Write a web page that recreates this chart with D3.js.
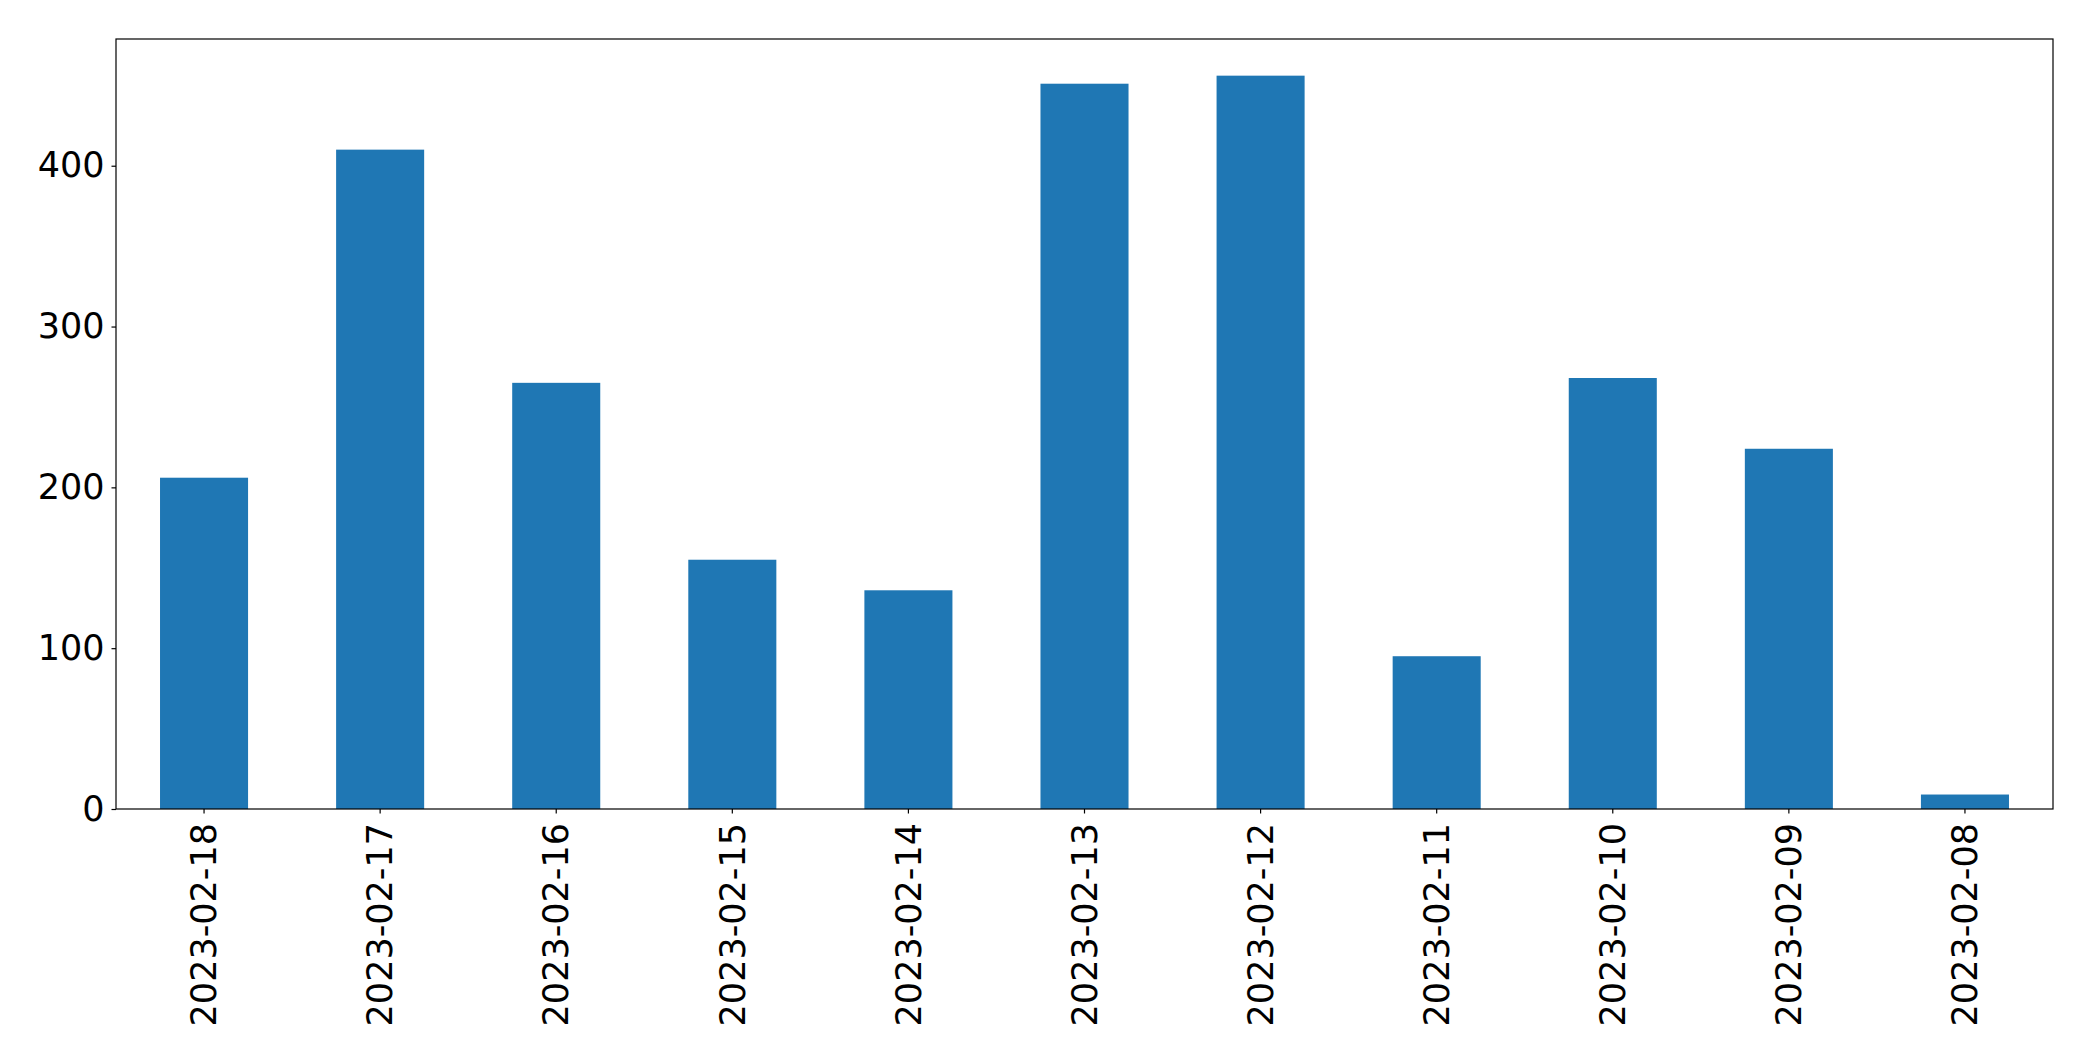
<!DOCTYPE html>
<html>
<head>
<meta charset="utf-8">
<script src="https://cdn.jsdelivr.net/npm/d3@7"></script>
<style>
  html, body { margin: 0; padding: 0; background: #fff; }
  svg { display: block; }
</style>
</head>
<body>
<svg id="chart" width="2093" height="1061"></svg>
<script>
const categories = ["2023-02-18","2023-02-17","2023-02-16","2023-02-15","2023-02-14","2023-02-13","2023-02-12","2023-02-11","2023-02-10","2023-02-09","2023-02-08"];
const values = [206, 410, 265, 155, 136, 451, 456, 95, 268, 224, 9];
const yTicks = [0, 100, 200, 300, 400];

const W = 2093, H = 1061;
const margin = {left: 116, top: 39, right: 40, bottom: 252};
const svg = d3.select("#chart");

const x = d3.scaleBand()
  .domain(categories)
  .range([margin.left, W - margin.right])
  .paddingInner(0.5)
  .paddingOuter(0.25);

const y = d3.scaleLinear()
  .domain([0, d3.max(values) * 1.05])
  .range([H - margin.bottom, margin.top]);

svg.append("g")
  .selectAll("rect")
  .data(categories.map((c, i) => ({c, v: values[i]})))
  .join("rect")
  .attr("x", d => x(d.c))
  .attr("width", x.bandwidth())
  .attr("y", d => y(d.v))
  .attr("height", d => y(0) - y(d.v))
  .attr("fill", "#1f77b4");

const font = "'DejaVu Sans', sans-serif";

const yAxis = svg.append("g")
  .attr("transform", `translate(${margin.left},0)`)
  .call(d3.axisLeft(y).tickValues(yTicks).tickSize(4.5).tickPadding(7).tickFormat(d3.format("d")));
yAxis.select(".domain").remove();
yAxis.selectAll("text").attr("font-family", font).attr("font-size", 35).attr("fill", "#000");
yAxis.selectAll("line").attr("stroke", "#000").attr("stroke-width", 1.2);

const xAxis = svg.append("g")
  .attr("transform", `translate(0,${H - margin.bottom})`)
  .call(d3.axisBottom(x).tickSize(4.5).tickPadding(0));
xAxis.select(".domain").remove();
xAxis.selectAll("line").attr("stroke", "#000").attr("stroke-width", 1.2);
xAxis.selectAll("text")
  .attr("font-family", font)
  .attr("font-size", 35)
  .attr("fill", "#000")
  .attr("text-anchor", "end")
  .attr("transform", "translate(0,14) rotate(-90)")
  .attr("x", 0)
  .attr("y", 0)
  .attr("dy", "0.35em");

// frame
svg.append("rect")
  .attr("x", margin.left)
  .attr("y", margin.top)
  .attr("width", W - margin.left - margin.right)
  .attr("height", H - margin.top - margin.bottom)
  .attr("fill", "none")
  .attr("stroke", "#000")
  .attr("stroke-width", 1.2);
</script>
</body>
</html>
